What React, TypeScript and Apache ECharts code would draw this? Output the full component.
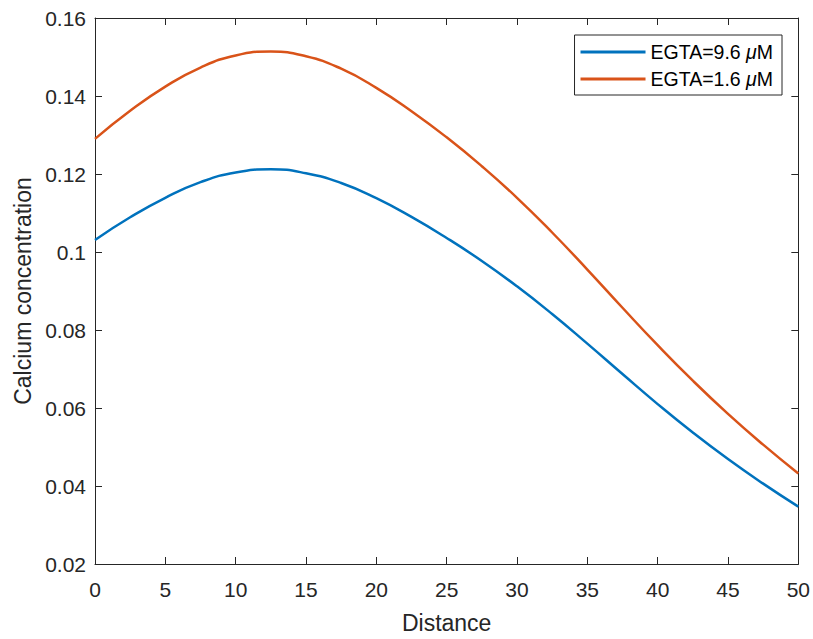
import React, { useEffect, useRef } from "react";
import * as echarts from "echarts";

const distance = [0, 2.5, 5, 7.5, 10, 12.5, 15, 17.5, 20, 22.5, 25, 27.5, 30, 32.5, 35, 37.5, 40, 42.5, 45, 47.5, 50];
const egta96 = [0.1031, 0.1089, 0.1139, 0.1179, 0.1204, 0.1212, 0.1202, 0.1177, 0.1138, 0.109, 0.1036, 0.0977, 0.0912, 0.0841, 0.0765, 0.0687, 0.061, 0.0537, 0.0469, 0.0406, 0.0347];
const egta16 = [0.129, 0.1362, 0.1424, 0.1473, 0.1504, 0.1514, 0.1502, 0.147, 0.1421, 0.1361, 0.1294, 0.122, 0.1139, 0.105, 0.0955, 0.0857, 0.0761, 0.067, 0.0585, 0.0506, 0.0432];
const seriesNames = ["EGTA=9.6 μM", "EGTA=1.6 μM"];
const seriesColors = ["#0072BD", "#D95319"];

const FONT = "'Liberation Sans', Arial, Helvetica, sans-serif";
const AXIS = "#262626";

export default function App() {
  const ref = useRef<HTMLDivElement>(null);
  useEffect(() => {
    document.body.style.margin = "0";
    if (!ref.current) return;
    const chart = echarts.init(ref.current, undefined, { renderer: "svg" });
    const axisCommon = {
      axisLine: { show: true, onZero: false, lineStyle: { color: AXIS, width: 1 } },
      axisTick: { show: true, inside: true, length: 7, lineStyle: { color: AXIS, width: 1 } },
      splitLine: { show: false },
    };
    chart.setOption({
      animation: false,
      backgroundColor: "#ffffff",
      textStyle: { fontFamily: FONT },
      grid: { left: 95, right: 14, top: 18, bottom: 61, containLabel: false },
      legend: {
        orient: "vertical",
        right: 31,
        top: 35,
        backgroundColor: "#ffffff",
        borderColor: AXIS,
        borderWidth: 1,
        padding: [7, 9, 6, 6],
        itemGap: 7,
        itemWidth: 65,
        itemHeight: 3,
        icon: "rect",
        data: seriesNames,
        formatter: (name: string) => name.replace("μ", "{i|μ}"),
        textStyle: {
          fontFamily: FONT,
          fontSize: 19.5,
          color: "#000000",
          lineHeight: 20,
          rich: { i: { fontStyle: "italic", fontSize: 19.5, fontFamily: FONT, color: "#000000" } },
        },
      },
      xAxis: [
        {
          type: "value",
          min: 0,
          max: 50,
          interval: 5,
          position: "bottom",
          name: "Distance",
          nameLocation: "middle",
          nameGap: 47,
          nameTextStyle: { fontSize: 23, color: AXIS, fontFamily: FONT },
          axisLabel: { fontSize: 21, color: AXIS, margin: 15, fontFamily: FONT },
          ...axisCommon,
        },
        {
          type: "value",
          min: 0,
          max: 50,
          interval: 5,
          position: "top",
          axisLabel: { show: false },
          ...axisCommon,
        },
      ],
      yAxis: [
        {
          type: "value",
          min: 0.02,
          max: 0.16,
          interval: 0.02,
          position: "left",
          name: "Calcium concentration",
          nameLocation: "middle",
          nameGap: 59,
          nameTextStyle: { fontSize: 23, color: AXIS, fontFamily: FONT },
          axisLabel: {
            fontSize: 21,
            color: AXIS,
            margin: 9,
            fontFamily: FONT,
            formatter: (v: number) => String(+v.toFixed(2)),
          },
          ...axisCommon,
        },
        {
          type: "value",
          min: 0.02,
          max: 0.16,
          interval: 0.02,
          position: "right",
          axisLabel: { show: false },
          ...axisCommon,
        },
      ],
      series: [
        {
          name: seriesNames[0],
          type: "line",
          xAxisIndex: 0,
          yAxisIndex: 0,
          smooth: true,
          symbol: "none",
          color: seriesColors[0],
          lineStyle: { width: 2.5, color: seriesColors[0] },
          data: distance.map((d, i) => [d, egta96[i]]),
        },
        {
          name: seriesNames[1],
          type: "line",
          xAxisIndex: 0,
          yAxisIndex: 0,
          smooth: true,
          symbol: "none",
          color: seriesColors[1],
          lineStyle: { width: 2.5, color: seriesColors[1] },
          data: distance.map((d, i) => [d, egta16[i]]),
        },
      ],
    });
    return () => chart.dispose();
  }, []);
  return <div ref={ref} style={{ width: 813, height: 639 }} />;
}
